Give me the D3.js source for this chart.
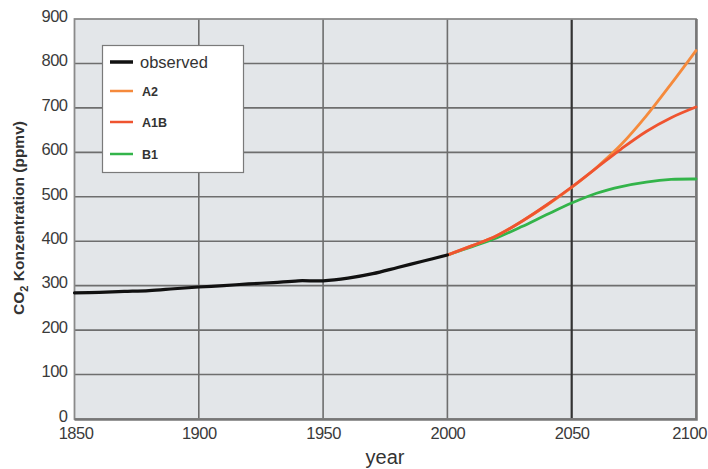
<!DOCTYPE html>
<html><head><meta charset="utf-8">
<script src="https://cdn.jsdelivr.net/npm/d3@7"></script>
<style>body{margin:0;background:#fff}svg{display:block;font-family:"Liberation Sans",Arial,sans-serif}</style>
</head><body><svg id="c" width="708" height="469"></svg>
<script>
const obsYears = [1850,1860,1870,1880,1890,1900,1910,1920,1930,1940,1950,1960,1970,1980,1990,2000];
const observed = [284,285,287,289,293,297,300,304,307,311,311,317,327,341,355,369];
const scenYears = [2000,2010,2020,2030,2040,2050,2060,2070,2080,2090,2100];
const A2  = [369,390,413,445,481,521,566,618,682,754,829];
const A1B = [369,390,413,445,482,522,565,608,647,678,702];
const B1  = [369,388,408,433,460,486,508,523,533,539,540];
const xTicks = [1850,1900,1950,2000,2050,2100];
const yTicks = [0,100,200,300,400,500,600,700,800,900];
const legendLabels = ["observed","A2","A1B","B1"];
const colors = {observed:"#111111",A2:"#f58a3c",A1B:"#ef5430",B1:"#33b44a"};

const svg = d3.select("#c");
const L=74.5,R=696,T=19,B=419;
const x = d3.scaleLinear().domain([1850,2100]).range([L,R]);
const y = d3.scaleLinear().domain([0,900]).range([B,T]);

svg.append("rect").attr("x",L).attr("y",T).attr("width",R-L).attr("height",B-T).attr("fill","#e3e6e9");
svg.append("g").selectAll("line").data(yTicks.filter(d=>d>0&&d<900)).join("line")
  .attr("x1",L).attr("x2",R).attr("y1",d=>y(d)).attr("y2",d=>y(d))
  .attr("stroke","#6e6e6e").attr("stroke-width",1.6);
svg.append("g").selectAll("line").data(xTicks.filter(d=>d>1850&&d<2100)).join("line")
  .attr("x1",d=>x(d)).attr("x2",d=>x(d)).attr("y1",T).attr("y2",B)
  .attr("stroke",d=>d===2050?"#333":"#6e6e6e").attr("stroke-width",d=>d===2050?2.2:1.6);
svg.append("rect").attr("x",L).attr("y",T).attr("width",R-L).attr("height",B-T).attr("fill","none").attr("stroke","#8a8a8a").attr("stroke-width",1.8);
svg.append("path").attr("d",`M${L},${B+0.5}H${R+0.5}V${T}`).attr("fill","none").attr("stroke","#777").attr("stroke-width",2.5);

const yAxis = svg.append("g").attr("transform",`translate(${L},-3)`).call(d3.axisLeft(y).tickValues(yTicks).tickSize(0).tickPadding(7));
const xAxis = svg.append("g").attr("transform",`translate(0,${B})`).call(d3.axisBottom(x).tickValues(xTicks).tickFormat(d3.format("d")).tickSize(0).tickPadding(8));
[yAxis,xAxis].forEach(a=>{a.select(".domain").remove();a.selectAll("text").attr("font-size",16.5).attr("fill","#3a3a3a").attr("font-family","Liberation Sans, Arial, sans-serif").attr("letter-spacing","-0.5");});
xAxis.selectAll(".tick").filter(d=>d===2100).select("text").attr("dx",-7);
xAxis.selectAll(".tick").filter(d=>d===1850).select("text").attr("dx",1);

svg.append("text").attr("x",385).attr("y",464).attr("text-anchor","middle").attr("font-size",20).attr("fill","#333").text("year");
const yt = svg.append("text").attr("transform","translate(24,218) rotate(-90)").attr("text-anchor","middle")
  .attr("font-size",15.5).attr("font-weight","bold").attr("fill","#333");
yt.append("tspan").text("CO");
yt.append("tspan").attr("font-size",11).attr("dy",4).text("2");
yt.append("tspan").attr("dy",-4).text(" Konzentration (ppmv)");

const line = d3.line().curve(d3.curveCatmullRom.alpha(0.5)).x(d=>x(d[0])).y(d=>y(d[1]));
const series = [
  {k:"B1",years:scenYears,vals:B1},
  {k:"A2",years:scenYears,vals:A2},
  {k:"A1B",years:scenYears,vals:A1B},
  {k:"observed",years:obsYears,vals:observed}
];
svg.append("g").selectAll("path").data(series).join("path")
  .attr("d",s=>line(s.years.map((yy,i)=>[yy,s.vals[i]])))
  .attr("fill","none").attr("stroke",s=>colors[s.k]).attr("stroke-width",s=>s.k==="observed"?3.2:2.8).attr("stroke-linecap","round");

const lg = svg.append("g");
lg.append("rect").attr("x",102.5).attr("y",45.5).attr("width",141).attr("height",127).attr("fill","#fff").attr("stroke","#7a7a7a").attr("stroke-width",1.2);
const ly = [62,91,122,154];
legendLabels.forEach((k,i)=>{
  lg.append("line").attr("x1",110).attr("x2",133).attr("y1",ly[i]).attr("y2",ly[i]).attr("stroke",colors[k]).attr("stroke-width",k==="observed"?3.5:2.5);
  lg.append("text").attr("x",k==="observed"?140:142).attr("y",ly[i]).attr("dy","0.36em")
    .attr("font-size",k==="observed"?16.5:12.5).attr("font-weight",k==="observed"?"normal":"bold").attr("fill","#333").text(k);
});
</script></body></html>
